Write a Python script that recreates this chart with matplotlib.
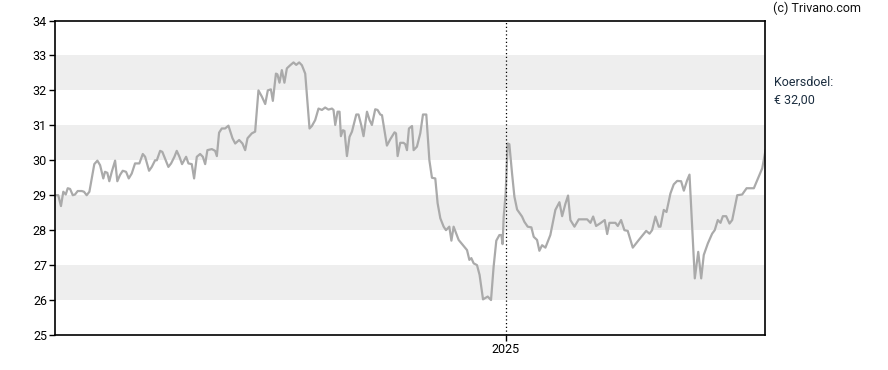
import datetime as dt
import matplotlib
matplotlib.use("Agg")
import matplotlib.pyplot as plt
import matplotlib.dates as mdates

plt.rcParams['font.family'] = ['Roboto', 'DejaVu Sans']

# price series: days since start date, closing price (EUR)
start = dt.date(2024, 1, 1)
end = dt.date(2025, 7, 31)
days = [0, 2.4, 4.6, 6.5, 8.5, 10.1, 12, 14.2, 16, 18.2, 21.5, 23.3, 25.5, 27.7,
        31.7, 34.2, 36.4, 39, 40.4, 42.3, 43.9, 45.9, 48.6, 50.4, 52.6, 54.8, 57.5,
        59.7, 62.1, 64.8, 68.3, 71.1, 73, 76.2, 78.4, 81.1, 82.5, 85.2, 87, 89.2,
        91.9, 94.1, 96.8, 98.7, 100.9, 103, 104.7, 106.3, 108.2, 110.9, 112.8, 115,
        117.7, 119.9, 121.8, 123.6, 127.2, 129.9, 131.3, 133.1, 135.3, 138, 140.7,
        144, 146.2, 149.4, 152.1, 154.3, 156.2, 159.7, 162.4, 165.1, 167.9, 170.6,
        172.7, 175.2, 176.8, 179.3, 180.5, 182.2, 184.1, 186.2, 188.2, 190.9, 193.6,
        195.8, 198.2, 200.4, 203.1, 206.6, 208.5, 211.2, 213.9, 216.7, 219.3, 222,
        224.8, 226.1, 227.5, 229.4, 231, 232.1, 233.7, 235, 237, 239.1, 241.1, 244.6,
        246.4, 248.6, 250.5, 253.3, 255.4, 257.3, 260, 261.9, 264.1, 265.5, 269.5,
        272.2, 275.7, 276.9, 278.2, 280.3, 283, 284.4, 285.8, 287.4, 289.9, 291.2,
        293.9, 296.6, 298.8, 301.5, 304, 306.1, 308.8, 310.7, 312.9, 315.6, 317.5,
        320.2, 321.9, 323.7, 327.8, 331.8, 334.6, 336.5, 338.1, 340, 342.7, 344.8,
        347.6, 351.4, 354.1, 356.2, 358.4, 360.9, 362.5, 363.5, 364.4, 366, 367.6,
        369, 371.2, 373.1, 375.3, 379.3, 381.2, 383.9, 386.9, 388.8, 391.5, 393.4,
        395.6, 398.3, 402.3, 406.4, 409.7, 411.9, 414.5, 416.7, 418.6, 421.9, 425.4,
        432.2, 434.9, 437.1, 439.5, 443, 446.5, 448.5, 450.3, 455.2, 457.1, 459.8,
        462.5, 465.2, 469.3, 474.2, 480.2, 482.9, 485, 487.7, 490.4, 491.8, 494.5,
        496.7, 499.9, 502.6, 505.4, 508.6, 510.8, 513.5, 515.4, 519.7, 522.5, 524.9,
        527, 530.3, 533.8, 535.9, 538.4, 540.6, 542.5, 545.2, 547.9, 550.1, 554.2,
        558.2, 561.8, 567.7, 574.5, 577.2]
prices = [29.0, 29.0, 28.69, 29.1, 29.02, 29.2, 29.18, 29.0, 29.02, 29.12, 29.12, 29.1,
          29.0, 29.1, 29.89, 29.99, 29.86, 29.48, 29.67, 29.64, 29.4, 29.67, 29.99,
          29.4, 29.58, 29.7, 29.67, 29.48, 29.62, 29.91, 29.91, 30.18, 30.1, 29.7,
          29.81, 30.0, 30.0, 30.27, 30.24, 30.05, 29.81, 29.91, 30.1, 30.27, 30.1,
          29.89, 30.0, 30.1, 29.91, 29.89, 29.48, 30.1, 30.18, 30.1, 29.89, 30.29,
          30.32, 30.27, 30.12, 30.79, 30.91, 30.91, 30.99, 30.63, 30.48, 30.58, 30.48,
          30.29, 30.63, 30.77, 30.82, 32.0, 31.82, 31.61, 32.0, 32.03, 31.7, 32.48,
          32.46, 32.22, 32.58, 32.22, 32.63, 32.72, 32.8, 32.73, 32.8, 32.72, 32.48,
          30.91, 30.98, 31.15, 31.48, 31.44, 31.51, 31.45, 31.48, 31.44, 31.01, 31.39,
          31.39, 30.69, 30.86, 30.84, 30.12, 30.67, 30.82, 31.31, 31.31, 31.01, 30.69,
          31.39, 31.15, 31.01, 31.46, 31.44, 31.31, 31.29, 30.42, 30.6, 30.8, 30.77,
          30.12, 30.5, 30.5, 30.46, 30.29, 30.91, 30.98, 30.29, 30.39, 30.77, 31.31,
          31.31, 30.0, 29.5, 29.48, 28.77, 28.34, 28.1, 28.0, 28.1, 27.7, 28.1, 27.72,
          27.55, 27.43, 27.15, 27.2, 27.05, 27.0, 26.72, 26.02, 26.1, 26.0, 26.95,
          27.7, 27.86, 27.86, 27.6, 28.39, 29.05, 30.48, 30.46, 29.62, 28.96, 28.59,
          28.39, 28.24, 28.1, 28.08, 27.81, 27.72, 27.41, 27.57, 27.5, 27.86, 28.58,
          28.8, 28.4, 28.75, 28.99, 28.29, 28.1, 28.31, 28.31, 28.21, 28.39, 28.12,
          28.2, 28.29, 27.89, 28.21, 28.21, 28.12, 28.29, 28.0, 27.98, 27.5, 27.72,
          27.98, 27.9, 28.0, 28.39, 28.1, 28.1, 28.58, 28.52, 29.05, 29.31, 29.41,
          29.4, 29.13, 29.43, 29.59, 26.62, 27.38, 26.62, 27.29, 27.62, 27.9, 28.0,
          28.29, 28.21, 28.4, 28.4, 28.19, 28.29, 29.0, 29.02, 29.2, 29.2, 29.77, 30.29]

yticks = [25, 26, 27, 28, 29, 30, 31, 32, 33, 34]
bands = [(26, 27), (28, 29), (30, 31), (32, 33)]
year_mark = dt.date(2025, 1, 1)
target_label = "Koersdoel:\n€ 32,00"

#----------------------------------------------------------------------------------------
fig = plt.figure(figsize=(8.88, 3.70), dpi=100)
ax = fig.add_axes([55.3/888, 1-335/370, (765.3-55.3)/888, (335-20.5)/370])

x0 = mdates.date2num(start)
xs = [x0 + d for d in days]

for lo, hi in bands:
	ax.axhspan(lo, hi, color='#eeeeee', lw=0, zorder=0)

ax.plot(xs, prices, color='#aaaaaa', lw=1.6, zorder=2)
ax.axvline(mdates.date2num(year_mark), color='black', lw=0.9, ls=(0, (1, 2)), zorder=3)

ax.set_xlim(x0, mdates.date2num(end))
ax.set_ylim(yticks[0], yticks[-1])
ax.set_yticks(yticks)
ax.set_yticklabels([str(v) for v in yticks])
ax.set_xticks([mdates.date2num(year_mark)])
ax.set_xticklabels([str(year_mark.year)])

ax.tick_params(axis='both', labelsize=9, length=4, width=1, colors='black', pad=2)
for sp in ax.spines.values():
	sp.set_linewidth(1.2)

fig.text(773/888, 1-8/370, "(c) Trivano.com", fontsize=9, ha='left', va='center', color='#111111')
fig.text(774/888, 1-91/370, target_label, fontsize=9, ha='left', va='center',
		color='#1c2e40', linespacing=1.5)

fig.savefig("out.png", dpi=100)
